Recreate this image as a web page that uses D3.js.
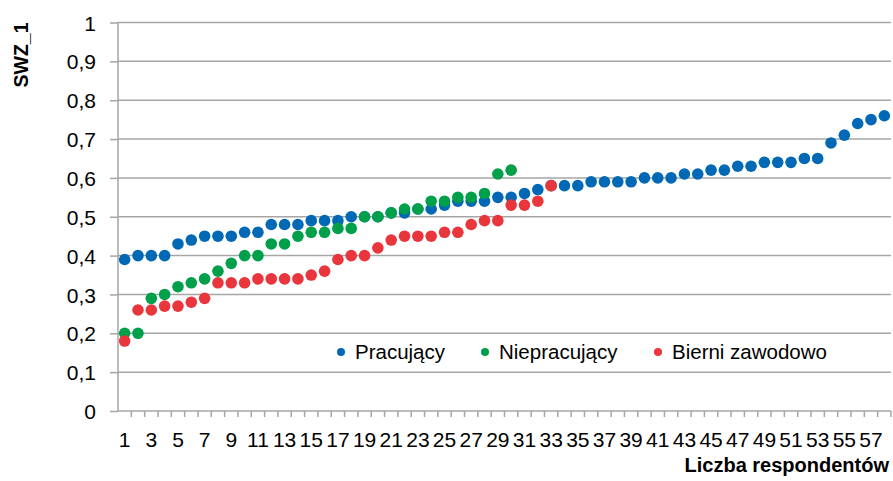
<!DOCTYPE html>
<html><head><meta charset="utf-8">
<script src="https://cdn.jsdelivr.net/npm/d3@7"></script>
<style>body{margin:0;background:#fff}svg{display:block}text{font-family:"Liberation Sans",Arial,sans-serif}</style>
</head><body><svg id="c" width="893" height="481"></svg>
<script>
const categories = d3.range(1, 59);
const tickLabels = d3.range(1, 58, 2);
const yTicks = [0,0.1,0.2,0.3,0.4,0.5,0.6,0.7,0.8,0.9,1];
const seriesNames = ["Pracujący", "Niepracujący", "Bierni zawodowo"];
const pracujacy = [0.39,0.40,0.40,0.40,0.43,0.44,0.45,0.45,0.45,0.46,0.46,0.48,0.48,0.48,0.49,0.49,0.49,0.50,0.50,0.50,
  0.51,0.51,0.52,0.52,0.53,0.54,0.54,0.54,0.55,0.55,0.56,0.57,0.58,0.58,0.58,0.59,0.59,0.59,0.59,0.60,
  0.60,0.60,0.61,0.61,0.62,0.62,0.63,0.63,0.64,0.64,0.64,0.65,0.65,0.69,0.71,0.74,0.75,0.76];
const niepracujacy = [0.20,0.20,0.29,0.30,0.32,0.33,0.34,0.36,0.38,0.40,0.40,0.43,0.43,0.45,0.46,0.46,0.47,0.47,0.50,0.50,
  0.51,0.52,0.52,0.54,0.54,0.55,0.55,0.56,0.61,0.62];
const bierni = [0.18,0.26,0.26,0.27,0.27,0.28,0.29,0.33,0.33,0.33,0.34,0.34,0.34,0.34,0.35,0.36,0.39,0.40,0.40,0.42,
  0.44,0.45,0.45,0.45,0.46,0.46,0.48,0.49,0.49,0.53,0.53,0.54,0.58];
const colors = ["#0068B4", "#00A04A", "#E8363C"];
const series = [pracujacy, niepracujacy, bierni];

const svg = d3.select("#c");
const x = d3.scaleBand().domain(categories).range([118, 891]).padding(0);
const y = d3.scaleLinear().domain([0, 1]).range([411, 22.5]);
const grid = "#A6A6A6";

// gridlines
svg.append("g").selectAll("line").data(yTicks.filter(d => d > 0)).join("line")
  .attr("x1", 118).attr("x2", 891).attr("y1", d => y(d)).attr("y2", d => y(d))
  .attr("stroke", grid).attr("stroke-width", 1.5);

// y axis
const ya = svg.append("g").attr("transform", "translate(118,0)")
  .call(d3.axisLeft(y).tickValues(yTicks).tickSize(8).tickPadding(14)
    .tickFormat(d => String(d).replace(".", ",")));
ya.select(".domain").attr("stroke", grid).attr("stroke-width", 1.5).attr("d", `M0,${y(0)}V${y(1)}`);
ya.selectAll(".tick line").attr("stroke", grid).attr("stroke-width", 1.5);
ya.selectAll(".tick text").attr("font-size", 21).attr("fill", "#000").attr("dy", "0.36em");

// x axis
const xa = svg.append("g").attr("transform", `translate(0,${y(0)})`)
  .call(d3.axisBottom(x).tickValues(tickLabels).tickSize(0).tickPadding(21));
xa.select(".domain").attr("stroke", grid).attr("stroke-width", 1.5).attr("d", "M118,0H891");
xa.selectAll(".tick text").attr("font-size", 21).attr("fill", "#000");
svg.append("g").selectAll("line").data(categories).join("line")
  .attr("x1", d => x(d) + x.bandwidth()).attr("x2", d => x(d) + x.bandwidth())
  .attr("y1", y(0)).attr("y2", y(0) + 6).attr("stroke", grid).attr("stroke-width", 1.5);

// points
series.forEach((s, i) => {
  svg.append("g").selectAll("circle").data(s).join("circle")
    .attr("cx", (d, j) => x(categories[j]) + x.bandwidth() / 2)
    .attr("cy", d => y(d)).attr("r", 5.8).attr("fill", colors[i]);
});

// legend
const legX = [341, 485, 658];
const lg = svg.append("g");
seriesNames.forEach((n, i) => {
  lg.append("circle").attr("cx", legX[i]).attr("cy", 352).attr("r", 4).attr("fill", colors[i]);
  lg.append("text").attr("x", legX[i] + 14).attr("y", 359).attr("font-size", 20.5).attr("fill", "#000").text(n);
});

// titles
svg.append("text").attr("transform", "translate(28,55) rotate(-90)").attr("text-anchor", "middle")
  .attr("font-size", 19.5).attr("font-weight", "bold").attr("fill", "#000").text("SWZ_1");
svg.append("text").attr("x", 889).attr("y", 472).attr("text-anchor", "end")
  .attr("font-size", 20).attr("font-weight", "bold").attr("fill", "#000").text("Liczba respondentów");
</script></body></html>
